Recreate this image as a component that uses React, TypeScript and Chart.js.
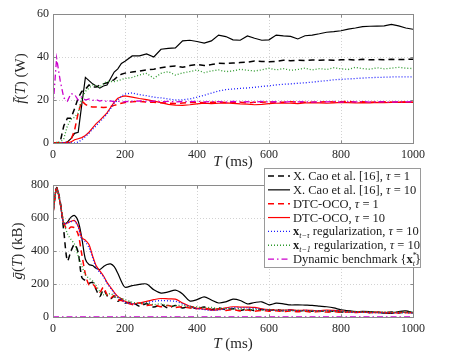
import React, { useEffect, useRef } from "react";
import { Chart, registerables } from "chart.js";

Chart.register(...registerables);

// ---------------- data ----------------
const T_MS = [
  0, 10, 20, 30, 40, 50, 60, 70, 80, 90, 100, 110, 120, 130, 140, 150, 160, 170, 180, 190, 200,
  220, 240, 260, 280, 300, 320, 340, 360, 380, 400, 420, 440, 460, 480, 500, 520, 540, 560, 580,
  600, 620, 640, 660, 680, 700, 720, 740, 760, 780, 800, 820, 840, 860, 880, 900, 920, 940, 960, 980, 1000,
];

const X_TICKS = [0, 200, 400, 600, 800, 1000];
const F_TICKS = [0, 20, 40, 60];
const G_TICKS = [0, 200, 400, 600, 800];

// top: f(T) in W
const F_CAO_T1 = [
  0, 0, 0.5, 8, 11.5, 11.5, 16, 21, 24, 25, 27, 26, 26, 27, 27.5, 28, 28.5, 29.5, 31, 32, 32.5,
  33, 33.5, 34, 34.3, 35, 35.5, 35.8, 35.2, 36, 36.6, 36, 36.5, 37.1, 37, 37.2, 37.4, 37.6, 38.1, 37.9,
  37.8, 38, 38.5, 38.3, 38.5, 38.4, 38.6, 38.5, 38.7, 38.5, 38.7, 38.8, 38.6, 38.9, 38.7, 38.8, 38.7, 38.9, 38.8, 38.9, 39,
];
const F_CAO_T10 = [
  0, 0, 0, 0, 0.5, 2, 4.5, 5, 18, 30.5, 29, 27.5, 26.5, 25.5, 26.5, 27, 30, 33, 34.5, 37, 38,
  40.5, 40.5, 41.4, 40, 43.6, 44, 44.2, 47.5, 47.8, 47.2, 46.5, 47.5, 50.2, 49.5, 48, 47.8, 49.8, 48.7, 47.8,
  48, 50.2, 49.8, 49.6, 48.4, 49.9, 50.2, 50.8, 51.5, 51.8, 52.2, 53, 53.5, 54.1, 54.3, 54.4, 54.5, 55.2, 54.5, 53.5, 52.9,
];
const F_DTC_T1 = [
  0, 0, 0, 0, 0.3, 1.5, 6, 14, 19.5, 18, 17, 16.8, 16.8, 16.7, 16.5, 16.6, 17, 17.5, 18, 18.5, 18.8,
  19.2, 19.3, 19.1, 18.9, 18.7, 18.5, 18.4, 18.6, 18.8, 18.9, 18.7, 18.9, 19, 18.8, 19, 18.9, 18.7, 18.9, 19,
  19.1, 18.9, 19, 19.2, 19, 18.9, 19, 19.1, 19.2, 19.1, 19.2, 19.4, 19, 19.2, 18.9, 19.1, 19.2, 19, 18.9, 19.2, 19,
];
const F_DTC_T10 = [
  0, 0, 0, 0, 0, 0.5, 1.5, 2, 2.5, 3.5, 5, 7, 9, 10.5, 12.3, 14, 16.5, 19, 20.8, 21.5, 21.9,
  21.3, 20.7, 20.2, 19.5, 18.8, 18, 17.6, 17.5, 17.8, 18.2, 18.5, 18.3, 18.5, 18.7, 18.4, 18.2, 18.1, 17.8, 18,
  18.3, 18.5, 18.6, 18.5, 18.3, 18.6, 18.8, 18.7, 18.5, 18.7, 18.9, 18.8, 18.6, 18.8, 18.7, 18.9, 18.8, 18.9, 19, 18.9, 18.9,
];
const F_REG_TAU = [
  0, 0, 0, 0, 0, 0, 0, 0.5, 1.5, 3, 4.5, 6.5, 8, 10, 11.5, 13.5, 16, 18.5, 20, 21.8, 22.8,
  23.3, 22.5, 22, 21.3, 21, 20.5, 20, 20.1, 20.5, 21.3, 22.2, 23.2, 24.2, 24.8, 25.1, 25.4, 25.6, 25.9, 26.3,
  26.6, 27, 27.3, 27.5, 27.8, 28, 28.3, 28.7, 29, 29.4, 29.6, 29.8, 30, 30.2, 30.4, 30.5, 30.6, 30.7, 30.8, 30.8, 30.8,
];
const F_REG_1 = [
  0.3, 0.3, 0.3, 2, 8, 11, 12, 14, 21, 24, 25.5, 27, 26.5, 26, 27.5, 28.6, 28.6, 28.6, 29, 29.5, 30,
  30.5, 31.6, 32.4, 30.1, 32.4, 33.2, 31.6, 32.6, 33.2, 34, 32.7, 33.5, 34, 33.2, 33.5, 34.3, 33.8, 33.5, 34,
  34.8, 34, 34.6, 33.8, 34.2, 34.8, 34, 34.6, 34.2, 35, 34.5, 34.2, 35.2, 34.6, 34.3, 35, 34.5, 34.8, 35.2, 34.8, 34.6,
];
const F_BENCH = [
  16.5, 39.5, 29, 21, 19.5, 23, 22.5, 20, 21.5, 20, 20.5, 19.8, 20.2, 19.5, 20, 19.2, 19.6, 19.2, 19.5, 19, 19.2,
  19.4, 19.6, 19.3, 19.5, 19.2, 19.4, 19.1, 19.3, 19.2, 19.4, 19.1, 19.3, 19.2, 19, 19.3, 19.1, 19.2, 19, 19.3,
  19.1, 19.2, 19, 19.3, 19.1, 19.2, 19, 19.2, 19.1, 19.3, 19, 19.2, 19.1, 19.3, 19, 19.2, 19.1, 19, 19.2, 19.1, 19.2,
];

// bottom: g(T) in kB
const G_CAO_T1 = [
  630, 780, 700, 520, 340, 400, 440, 390, 240, 220, 205, 210, 165, 125, 165, 130, 110, 125, 95, 110, 85,
  90, 65, 80, 60, 75, 55, 70, 55, 65, 50, 60, 45, 55, 45, 50, 40, 48, 38, 45,
  40, 45, 38, 42, 35, 40, 35, 38, 32, 36, 30, 34, 30, 32, 28, 30, 26, 30, 25, 30, 25,
];
const G_CAO_T10 = [
  630, 785, 690, 565, 575, 605, 615, 580, 480, 350, 318, 312, 295, 288, 305, 318, 322, 305, 265, 215, 180,
  190, 198, 200, 165, 145, 152, 163, 140, 97, 105, 122, 103, 85, 92, 108, 100, 79, 88, 92,
  74, 84, 80, 73, 74, 72, 70, 66, 62, 55, 44, 38, 33, 34, 32, 28, 24, 22, 33, 37, 27,
];
const G_DTC_T1 = [
  630, 780, 690, 570, 530, 545, 540, 500, 380, 260, 195, 200, 175, 150, 180, 135, 115, 130, 105, 100, 90,
  75, 85, 70, 75, 62, 70, 58, 62, 55, 50, 55, 45, 50, 40, 45, 38, 42, 35, 40,
  35, 38, 33, 36, 32, 35, 30, 34, 30, 33, 28, 31, 27, 30, 26, 29, 26, 28, 25, 28, 25,
];
const G_DTC_T10 = [
  630, 780, 690, 565, 570, 580, 585, 550, 480, 465, 440, 370, 310, 280, 250, 210, 180, 150, 125, 110, 95,
  80, 85, 95, 105, 112, 110, 108, 85, 65, 53, 48, 42, 45, 55, 62, 60, 60, 58, 50,
  45, 42, 42, 43, 40, 42, 40, 38, 42, 40, 37, 33, 30, 30, 28, 27, 28, 26, 28, 27, 26,
];
const G_REG_TAU = [
  630, 780, 690, 565, 570, 578, 582, 545, 470, 455, 420, 360, 300, 270, 245, 205, 175, 145, 120, 105, 90,
  80, 82, 88, 95, 100, 98, 95, 80, 62, 50, 45, 40, 42, 50, 56, 55, 55, 52, 46,
  42, 40, 40, 41, 38, 40, 38, 36, 39, 37, 35, 31, 29, 29, 27, 26, 27, 25, 27, 26, 25,
];
const G_REG_1 = [
  630, 780, 690, 575, 505, 470, 440, 370, 310, 255, 235, 220, 190, 155, 135, 135, 142, 128, 118, 112, 105,
  90, 82, 85, 75, 80, 70, 68, 72, 60, 62, 55, 58, 50, 52, 48, 50, 45, 47, 42,
  44, 40, 42, 38, 40, 37, 38, 35, 37, 34, 35, 32, 34, 30, 32, 29, 31, 28, 30, 28, 30,
];
const G_BENCH = [
  0, 0, 0, 0, 0, 0, 0, 0, 0, 0, 0, 0, 0, 0, 0, 0, 0, 0, 0, 0, 0,
  0, 0, 0, 0, 0, 0, 0, 0, 0, 0, 0, 0, 0, 0, 0, 0, 0, 0, 0,
  0, 0, 0, 0, 0, 0, 0, 0, 0, 0, 0, 0, 0, 0, 0, 0, 0, 0, 0, 0, 0,
];

// ---------------- styles ----------------
const SERIF = '"Liberation Serif", "DejaVu Serif", serif';
const fR = (s: number) => `${s}px ${SERIF}`;
const fI = (s: number) => `italic ${s}px ${SERIF}`;
const fB = (s: number) => `bold ${s}px ${SERIF}`;

const STYLES = [
  { color: "#000000", dash: [6, 4], width: 1.5 },
  { color: "#000000", dash: [] as number[], width: 1.2 },
  { color: "#ff0000", dash: [6, 4], width: 1.5 },
  { color: "#ff0000", dash: [] as number[], width: 1.2 },
  { color: "#1a1aff", dash: [1, 2], width: 1.3 },
  { color: "#2e9a2e", dash: [1, 2], width: 1.3 },
  { color: "#cc00cc", dash: [6, 3, 1.5, 3], width: 1.3 },
];

type Seg = { t: string; f: string; dy?: number; adv?: boolean };

const LF = 12.5;
const LEGEND_LABELS: Seg[][] = [
  [{ t: "X. Cao et al. [16], ", f: fR(LF) }, { t: "τ", f: fI(LF) }, { t: " = 1", f: fR(LF) }],
  [{ t: "X. Cao et al. [16], ", f: fR(LF) }, { t: "τ", f: fI(LF) }, { t: " = 10", f: fR(LF) }],
  [{ t: "DTC-OCO, ", f: fR(LF) }, { t: "τ", f: fI(LF) }, { t: " = 1", f: fR(LF) }],
  [{ t: "DTC-OCO, ", f: fR(LF) }, { t: "τ", f: fI(LF) }, { t: " = 10", f: fR(LF) }],
  [
    { t: "x", f: fB(LF) },
    { t: "t−τ", f: fI(8), dy: 3 },
    { t: " regularization, ", f: fR(LF) },
    { t: "τ", f: fI(LF) },
    { t: " = 10", f: fR(LF) },
  ],
  [
    { t: "x", f: fB(LF) },
    { t: "t−1", f: fI(8), dy: 3 },
    { t: " regularization, ", f: fR(LF) },
    { t: "τ", f: fI(LF) },
    { t: " = 10", f: fR(LF) },
  ],
  [
    { t: "Dynamic benchmark {", f: fR(LF) },
    { t: "x", f: fB(LF) },
    { t: "*", f: fR(8), dy: -5, adv: false },
    { t: "t", f: fI(8), dy: 3 },
    { t: "}", f: fR(LF) },
  ],
];

const X_TITLE: Seg[] = [
  { t: "T", f: fI(15) },
  { t: " (ms)", f: fR(15) },
];
const F_TITLE: Seg[] = [
  { t: "f\u0304", f: fI(15) },
  { t: "(", f: fR(15) },
  { t: "T", f: fI(15) },
  { t: ")", f: fR(15) },
  { t: " (W)", f: fR(15) },
];
const G_TITLE: Seg[] = [
  { t: "\u1E21", f: fI(15) },
  { t: "(", f: fR(15) },
  { t: "T", f: fI(15) },
  { t: ")", f: fR(15) },
  { t: " (kB)", f: fR(15) },
];

function segWidth(ctx: CanvasRenderingContext2D, segs: Seg[]) {
  let w = 0;
  for (const s of segs) {
    ctx.font = s.f;
    if (s.adv !== false) w += ctx.measureText(s.t).width;
  }
  return w;
}
function drawSegs(ctx: CanvasRenderingContext2D, segs: Seg[], x: number, y: number) {
  let cx = x;
  for (const s of segs) {
    ctx.font = s.f;
    ctx.fillText(s.t, cx, y + (s.dy || 0));
    if (s.adv !== false) cx += ctx.measureText(s.t).width;
  }
}

type Cfg = {
  series: number[][];
  yMax: number;
  yTicks: number[];
  padTop: number;
  xAxisH: number;
  tension: number;
  yTitle: Seg[];
  yTitleX: number;
  xTitleBase: number;
  legendTop?: number;
};

function decorPlugin(o: Cfg) {
  return {
    id: "decor",
    beforeDatasetsDraw(chart: any) {
      const { ctx, chartArea: a, scales } = chart;
      const sx = scales.x;
      const sy = scales.y;
      ctx.save();
      ctx.strokeStyle = "#d2d2d2";
      ctx.lineWidth = 1;
      ctx.setLineDash([1, 2]);
      ctx.beginPath();
      for (const v of X_TICKS) {
        const p = Math.round(sx.getPixelForValue(v)) + 0.5;
        if (p > a.left + 2 && p < a.right - 2) {
          ctx.moveTo(p, a.top);
          ctx.lineTo(p, a.bottom);
        }
      }
      for (const v of o.yTicks) {
        const p = Math.round(sy.getPixelForValue(v)) + 0.5;
        if (p > a.top + 2 && p < a.bottom - 2) {
          ctx.moveTo(a.left, p);
          ctx.lineTo(a.right, p);
        }
      }
      ctx.stroke();
      ctx.restore();
    },
    afterDatasetsDraw(chart: any) {
      const { ctx, chartArea: a, scales } = chart;
      const sx = scales.x;
      const sy = scales.y;
      ctx.save();
      ctx.setLineDash([]);
      ctx.strokeStyle = "#8a8a8a";
      ctx.lineWidth = 1;
      const L = Math.round(a.left) + 0.5;
      const R = Math.round(a.right) + 0.5;
      const Tp = Math.round(a.top) + 0.5;
      const B = Math.round(a.bottom) + 0.5;
      ctx.strokeRect(L, Tp, R - L, B - Tp);
      ctx.beginPath();
      for (const v of X_TICKS) {
        const p = Math.round(sx.getPixelForValue(v)) + 0.5;
        ctx.moveTo(p, B);
        ctx.lineTo(p, B - 3);
        ctx.moveTo(p, Tp);
        ctx.lineTo(p, Tp + 3);
      }
      for (const v of o.yTicks) {
        const p = Math.round(sy.getPixelForValue(v)) + 0.5;
        ctx.moveTo(L, p);
        ctx.lineTo(L + 3, p);
        ctx.moveTo(R, p);
        ctx.lineTo(R - 3, p);
      }
      ctx.stroke();

      // titles
      ctx.fillStyle = "#262626";
      ctx.textBaseline = "alphabetic";
      ctx.textAlign = "left";
      const cxm = (a.left + a.right) / 2;
      drawSegs(ctx, X_TITLE, cxm - segWidth(ctx, X_TITLE) / 2, o.xTitleBase);
      ctx.save();
      ctx.translate(o.yTitleX, (a.top + a.bottom) / 2);
      ctx.rotate(-Math.PI / 2);
      ctx.textBaseline = "middle";
      drawSegs(ctx, o.yTitle, -segWidth(ctx, o.yTitle) / 2, 0);
      ctx.restore();

      // legend
      if (o.legendTop !== undefined) {
        const lx = 264.5;
        const ly = o.legendTop + 0.5;
        const lw = 156;
        const lh = 99;
        ctx.fillStyle = "#ffffff";
        ctx.fillRect(lx, ly, lw, lh);
        ctx.strokeStyle = "#9a9a9a";
        ctx.lineWidth = 1;
        ctx.strokeRect(lx, ly, lw, lh);
        LEGEND_LABELS.forEach((segs, i) => {
          const cy = o.legendTop! + 8 + i * 13.85;
          const st = STYLES[i];
          ctx.save();
          ctx.strokeStyle = st.color;
          ctx.lineWidth = st.width;
          ctx.setLineDash(st.dash);
          ctx.beginPath();
          ctx.moveTo(268, cy);
          ctx.lineTo(290, cy);
          ctx.stroke();
          ctx.restore();
          ctx.fillStyle = "#1a1a1a";
          ctx.textBaseline = "alphabetic";
          drawSegs(ctx, segs, 293, cy + 4);
        });
      }
      ctx.restore();
    },
  };
}

function build(canvas: HTMLCanvasElement, cfg: Cfg) {
  const datasets = cfg.series.map((arr, i) => ({
    label: LEGEND_LABELS[i].map((s) => s.t).join(""),
    data: T_MS.map((t, j) => ({ x: t, y: arr[j] })),
    borderColor: STYLES[i].color,
    borderDash: STYLES[i].dash,
    borderWidth: STYLES[i].width,
    pointRadius: 0,
    fill: false,
    tension: cfg.tension,
    order: 6 - i,
  }));
  const tickFont = { family: SERIF, size: 12 };
  return new Chart(canvas, {
    type: "line",
    data: { datasets },
    options: {
      responsive: false,
      devicePixelRatio: 1,
      animation: false,
      events: [],
      layout: { padding: { top: cfg.padTop, right: 36, left: 0, bottom: 0 } },
      plugins: { legend: { display: false }, tooltip: { enabled: false } },
      scales: {
        x: {
          type: "linear",
          min: 0,
          max: 1000,
          afterBuildTicks: (s: any) => {
            s.ticks = X_TICKS.map((v) => ({ value: v }));
          },
          afterFit: (s: any) => {
            s.height = cfg.xAxisH;
          },
          grid: { display: false, drawTicks: false },
          border: { display: false },
          ticks: {
            font: tickFont,
            color: "#262626",
            padding: 5,
            maxRotation: 0,
            autoSkip: false,
            callback: (v: any) => String(v),
          },
        },
        y: {
          type: "linear",
          min: 0,
          max: cfg.yMax,
          afterBuildTicks: (s: any) => {
            s.ticks = cfg.yTicks.map((v) => ({ value: v }));
          },
          afterFit: (s: any) => {
            s.width = 53;
          },
          grid: { display: false, drawTicks: false },
          border: { display: false },
          ticks: {
            font: tickFont,
            color: "#262626",
            padding: 4,
            autoSkip: false,
            callback: (v: any) => String(v),
          },
        },
      },
    } as any,
    plugins: [decorPlugin(cfg) as any],
  });
}

export default function App() {
  const topRef = useRef<HTMLCanvasElement>(null);
  const botRef = useRef<HTMLCanvasElement>(null);

  useEffect(() => {
    const c1 = build(topRef.current!, {
      series: [F_CAO_T1, F_CAO_T10, F_DTC_T1, F_DTC_T10, F_REG_TAU, F_REG_1, F_BENCH],
      yMax: 60,
      yTicks: F_TICKS,
      padTop: 14,
      xAxisH: 33,
      tension: 0,
      yTitle: F_TITLE,
      yTitleX: 21,
      xTitleBase: 166,
    });
    const c2 = build(botRef.current!, {
      series: [G_CAO_T1, G_CAO_T10, G_DTC_T1, G_DTC_T10, G_REG_TAU, G_REG_1, G_BENCH],
      yMax: 800,
      yTicks: G_TICKS,
      padTop: 25,
      xAxisH: 35,
      tension: 0.3,
      yTitle: G_TITLE,
      yTitleX: 18,
      xTitleBase: 188,
      legendTop: 8,
    });
    return () => {
      c1.destroy();
      c2.destroy();
    };
  }, []);

  return (
    <div style={{ position: "fixed", left: 0, top: 0, width: 449, height: 352, background: "#ffffff" }}>
      <canvas
        ref={topRef}
        width={449}
        height={176}
        style={{ position: "absolute", left: 0, top: 0, width: 449, height: 176 }}
      />
      <canvas
        ref={botRef}
        width={449}
        height={192}
        style={{ position: "absolute", left: 0, top: 160, width: 449, height: 192 }}
      />
    </div>
  );
}
